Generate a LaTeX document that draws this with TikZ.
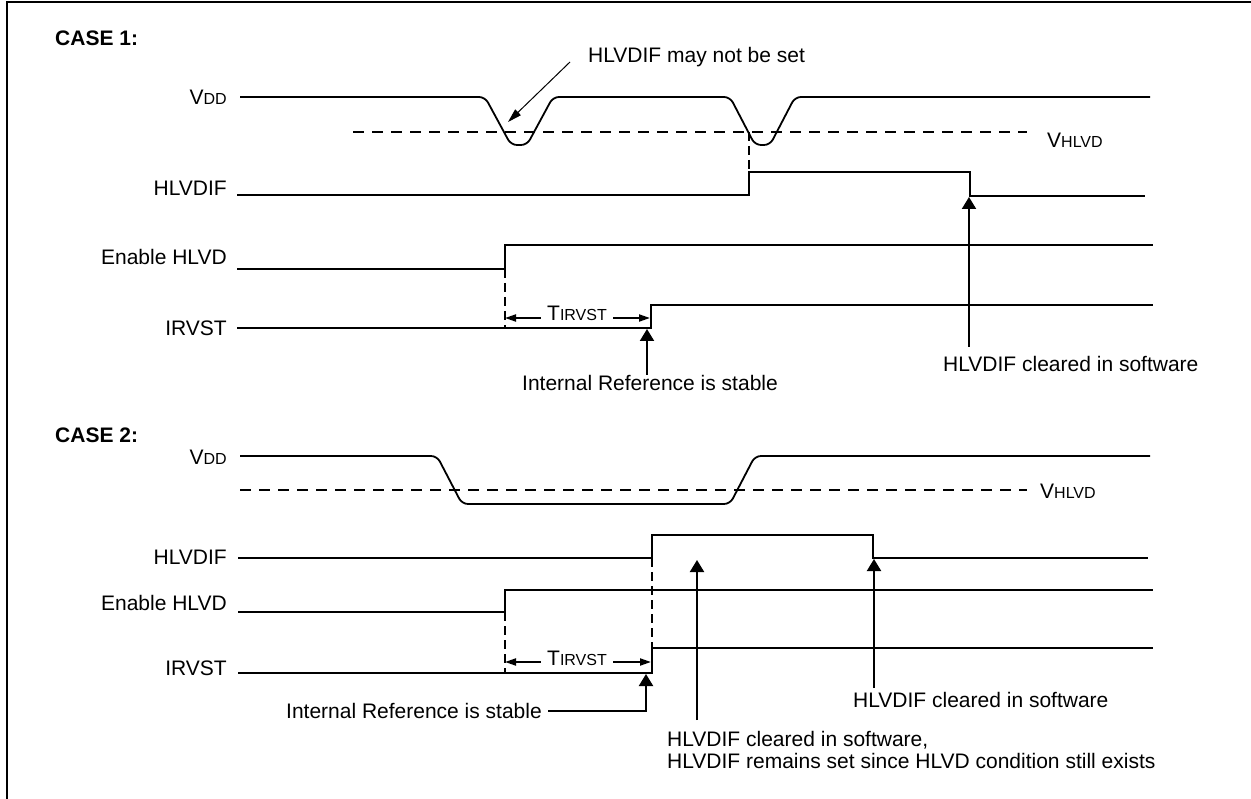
\documentclass[tikz,border=0pt]{standalone}
\usepackage{fontspec}
\setmainfont{Liberation Sans}
\usetikzlibrary{arrows.meta}
\newcommand{\scfont}{\fontsize{16}{16}\selectfont}

\begin{document}
\begin{tikzpicture}[x=1pt,y=-1pt,
            every node/.style={font=\fontsize{21}{22}\selectfont, inner sep=0pt},
            sig/.style={anchor=east},
            note/.style={anchor=base west},
            wave/.style={line width=2pt},
            vdd/.style={line width=1.8pt, rounded corners=6pt},
            guide/.style={line width=2pt, dash pattern=on 11pt off 8pt},
            pointer/.style={line width=2pt, -{Triangle[width=14pt,length=12pt]}},
            span/.style={line width=2pt, -{Triangle[width=7pt,length=11pt]}},
            thin pointer/.style={line width=1pt, -{Triangle[width=8pt,length=14pt]}}
            ]
            \useasboundingbox (0,0) rectangle (1251,799);
            \draw[line width=2.5pt] (7,799) -- (7,2) -- (1251,2);

            % case 1
            \node[note, font=\fontsize{21}{22}\bfseries] (caseA) at (55,46) {CASE 1:};
            \node[sig] (vddA) at (227,97) {V{\scfont DD}};
            \node[sig] (hlvdifA) at (227,188) {HLVDIF};
            \node[sig] (enA) at (227,257) {Enable HLVD};
            \node[sig] (irvstA) at (227,328) {IRVST};
            \node[note] (vhA) at (1047,148) {V{\scfont HLVD}};
            \node[note] (mayA) at (588,63) {HLVDIF may not be set};
            \node[anchor=base] (tA) at (577,321) {T{\scfont IRVST}};
            \node[anchor=north] (irsA) at (650,375) {Internal Reference is stable};
            \node[note] (clrA) at (943,372) {HLVDIF cleared in software};

            \draw[vdd] (240,97) -- (485,97) -- (511,145) -- (527,145) -- (553,97)
                -- (730,97) -- (755,145) -- (770,145) -- (795,97) -- (1150,97);
            \draw[guide] (353,132) -- (1027,132);
            \draw[wave] (237,195) -- (749,195) -- (749,172) -- (970,172) -- (970,196) -- (1145,196);
            \draw[wave] (237,269) -- (505,269) -- (505,245) -- (1153,245);
            \draw[wave] (237,328) -- (651,328) -- (651,305) -- (1153,305);
            \draw[guide, dash pattern=on 9pt off 5pt] (749,132) -- (749,172);
            \draw[guide, dash pattern=on 9pt off 5pt] (505,269) -- (505,328);

            \coordinate (mayAtip) at (508,122);
            \coordinate (irsAtip) at (647,329);
            \coordinate (clrAtip) at (969,197);
            \coordinate (clrAtail) at (969,347);
            \coordinate (tAl) at (505,318);
            \coordinate (tAr) at (650,318);

            \draw[thin pointer] (570,62) -- (mayAtip);
            \draw[span] ([xshift=-6pt]tA.west |- tAl) -- (tAl);
            \draw[span] ([xshift=6pt]tA.east |- tAr) -- (tAr);
            \draw[pointer] (irsA.north -| irsAtip) -- (irsAtip);
            \draw[pointer] (clrAtail) -- (clrAtip);

            % case 2
            \node[note, font=\fontsize{21}{22}\bfseries] (caseB) at (55,443) {CASE 2:};
            \node[sig] (vddB) at (227,457) {V{\scfont DD}};
            \node[sig] (hlvdifB) at (227,557) {HLVDIF};
            \node[sig] (enB) at (227,603) {Enable HLVD};
            \node[sig] (irvstB) at (227,668) {IRVST};
            \node[note] (vhB) at (1040,499) {V{\scfont HLVD}};
            \node[anchor=base] (tB) at (577,665) {T{\scfont IRVST}};
            \node[sig] (irsB) at (542,711) {Internal Reference is stable};
            \node[note] (clrB) at (853,707) {HLVDIF cleared in software};
            \node[anchor=north west, align=left] (clrC) at (667,731)
                {HLVDIF cleared in software,\\HLVDIF remains set since HLVD condition still exists};

            \draw[vdd] (240,456) -- (437,456) -- (462,504) -- (730,504) -- (755,456) -- (1150,456);
            \draw[guide] (240,490) -- (1027,490);
            \draw[wave] (238,558) -- (652,558) -- (652,535) -- (873,535) -- (873,558) -- (1148,558);
            \draw[wave] (238,612) -- (505,612) -- (505,590) -- (1153,590);
            \draw[wave] (238,673) -- (652,673) -- (652,648) -- (1153,648);
            \draw[guide, dash pattern=on 9pt off 5pt] (652,558) -- (652,648);
            \draw[guide, dash pattern=on 9pt off 5pt] (505,612) -- (505,673);

            \coordinate (irsBtip) at (646,674);
            \coordinate (clrBtip) at (874,559);
            \coordinate (clrBtail) at (874,688);
            \coordinate (clrCtip) at (697,560);
            \coordinate (clrCtail) at (697,720);
            \coordinate (tBl) at (505,662);
            \coordinate (tBr) at (651,662);

            \draw[span] ([xshift=-6pt]tB.west |- tBl) -- (tBl);
            \draw[span] ([xshift=6pt]tB.east |- tBr) -- (tBr);
            \draw[pointer] ([xshift=6pt]irsB.east) -| (irsBtip);
            \draw[pointer] (clrBtail) -- (clrBtip);
            \draw[pointer] (clrCtail) -- (clrCtip);

            \end{tikzpicture}
\end{document}
